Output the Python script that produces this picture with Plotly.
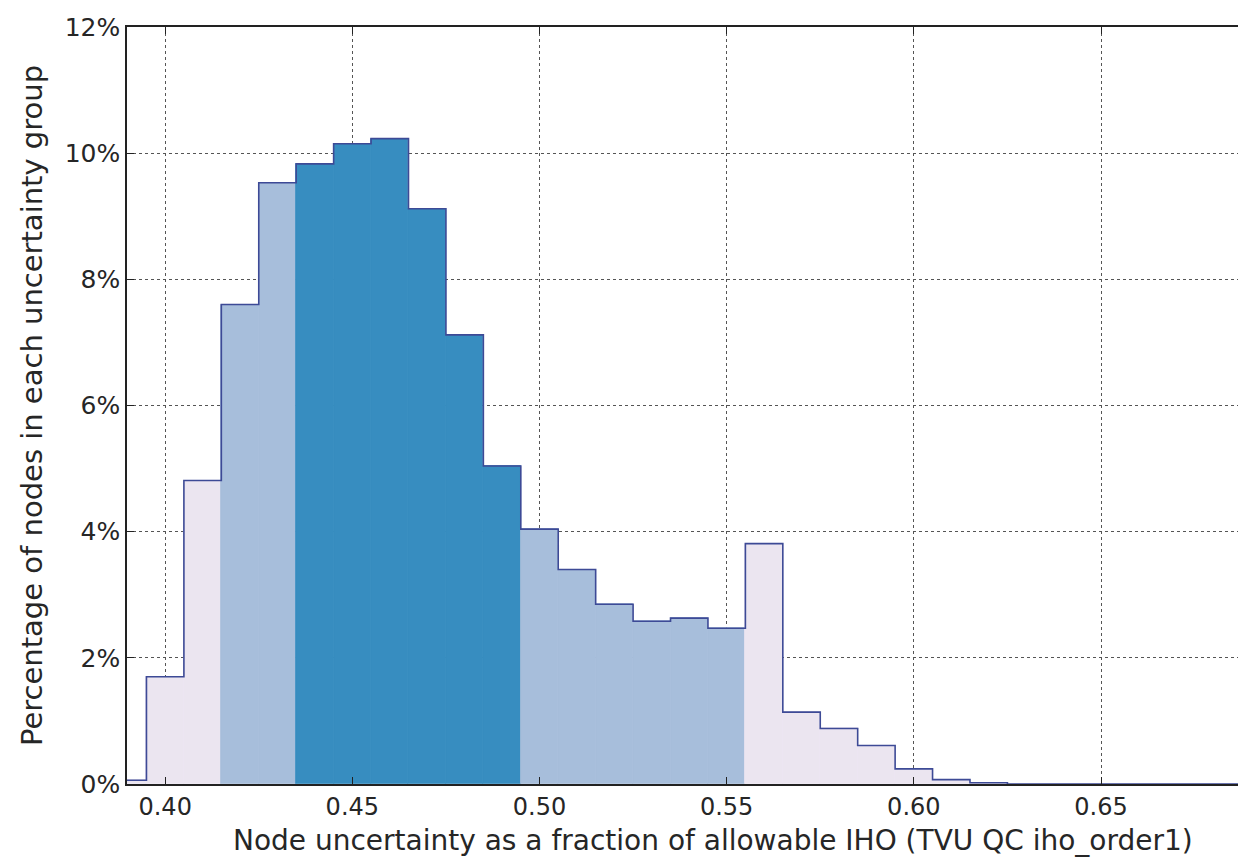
import plotly.graph_objects as go

# Bin left edges (width 0.01)
bin_left = [0.385, 0.395, 0.405, 0.415, 0.425, 0.435, 0.445, 0.455, 0.465, 0.475,
            0.485, 0.495, 0.505, 0.515, 0.525, 0.535, 0.545, 0.555, 0.565, 0.575,
            0.585, 0.595, 0.605, 0.615]
bin_width = 0.01
# Percentage of nodes in each bin
pct = [0.06, 1.70, 4.81, 7.60, 9.53, 9.83, 10.15, 10.23, 9.12, 7.12,
       5.04, 4.04, 3.40, 2.85, 2.58, 2.63, 2.47, 3.81, 1.14, 0.88,
       0.61, 0.24, 0.07, 0.02]
# Uncertainty group of each bin (0 = outer, 1 = middle, 2 = core)
group = [0, 0, 0, 1, 1, 2, 2, 2, 2, 2,
         2, 1, 1, 1, 1, 1, 1, 0, 0, 0,
         0, 0, 0, 0]
group_colors = ["#ebe5f0", "#a7bedb", "#378dc0"]
outline_color = "#3d4a96"

x_ticks = [0.40, 0.45, 0.50, 0.55, 0.60, 0.65]
y_ticks = [0, 2, 4, 6, 8, 10, 12]

x_title = "Node uncertainty as a fraction of allowable IHO (TVU QC iho_order1)"
y_title = "Percentage of nodes in each uncertainty group"

centers = [b + bin_width / 2 for b in bin_left]
colors = [group_colors[g] for g in group]

fig = go.Figure()
fig.add_trace(go.Bar(
    x=centers, y=pct, width=[bin_width] * len(pct),
    marker=dict(color=colors, line=dict(color=colors, width=0.8)),
    showlegend=False, hoverinfo="skip",
))

step_x = bin_left + [bin_left[-1] + bin_width, 0.75]
step_y = pct + [0, 0]
fig.add_trace(go.Scatter(
    x=[bin_left[0]] + step_x, y=[0] + step_y, mode="lines",
    line=dict(color=outline_color, width=1.6, shape="hv"),
    showlegend=False, hoverinfo="skip",
))

font_family = "DejaVu Sans"
text_color = "#262626"
fig.update_layout(
    width=1230, height=849,
    margin=dict(l=119, r=0, t=19, b=73),
    paper_bgcolor="white", plot_bgcolor="white",
    bargap=0,
    font=dict(family=font_family, color=text_color),
)
fig.add_annotation(
    text=x_title, xref="paper", yref="paper", x=0, y=0,
    xanchor="center", yanchor="middle", xshift=586, yshift=-56,
    showarrow=False, font=dict(size=28, family=font_family, color=text_color),
)
fig.update_xaxes(
    range=[0.3898, 0.6866],
    tickvals=x_ticks, ticktext=[f"{v:.2f}" for v in x_ticks],
    ticks="inside", ticklen=7, tickcolor="#222", tickwidth=1,
    showline=True, linecolor="#222", linewidth=1.5, mirror="ticks",
    showgrid=True, gridcolor="#555", gridwidth=1, griddash="dot",
    zeroline=False, layer="above traces", ticklabelstandoff=0,
    tickfont=dict(size=24, family=font_family, color=text_color),
)
fig.update_yaxes(
    range=[0, 12],
    tickvals=y_ticks, ticktext=[f"{v}%" for v in y_ticks],
    ticks="inside", ticklen=7, tickcolor="#222", tickwidth=1,
    showline=True, linecolor="#222", linewidth=1.5,
    showgrid=True, gridcolor="#555", gridwidth=1, griddash="dot",
    zeroline=False, layer="above traces",
    tickfont=dict(size=25, family=font_family, color=text_color),
    title=dict(text=y_title,
               font=dict(size=29, family=font_family, color=text_color), standoff=14),
)

fig.write_html("out.html")
